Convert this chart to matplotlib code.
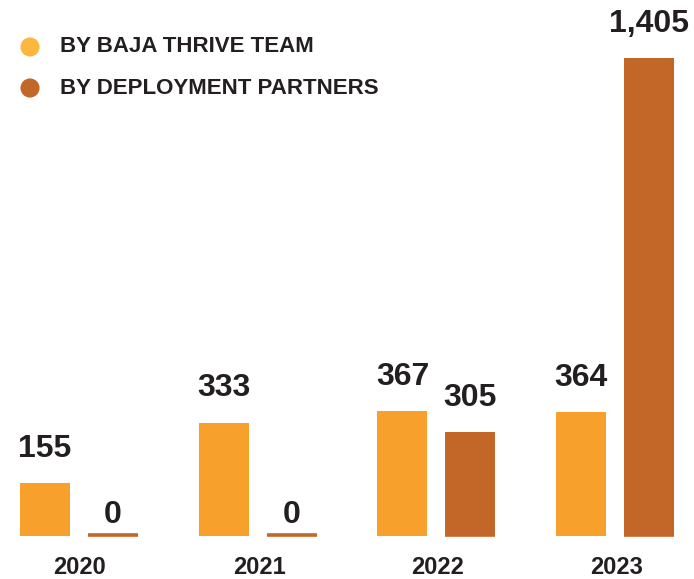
import matplotlib.pyplot as plt
import numpy as np

years = ['2020', '2021', '2022', '2023']
team = [155, 333, 367, 364]
partners = [0, 0, 305, 1405]
labels_team = ['155', '333', '367', '364']
labels_partners = ['0', '0', '305', '1,405']

c_team = '#F7A02B'
c_partners = '#C26727'
c_team_dot = '#FDB73E'
dark = '#231F20'

fig = plt.figure(figsize=(6.94, 5.79), dpi=100)
ax = fig.add_axes([0, 43 / 579, 1, 536 / 579])

x = np.arange(len(years))
w = 0.28
off = 0.19
ax.bar(x - off, team, w, color=c_team, linewidth=0)
ax.bar(x + off, partners, w, color=c_partners, linewidth=0)
# thin strip so the zero bars still show
ax.hlines(np.full(len(x), 4.0), x + off - w / 2, x + off + w / 2, color=c_partners,
          linewidth=2.6, capstyle='butt', clip_on=False)

num_font = dict(family='Liberation Sans', fontweight='bold', fontsize=23, color=dark)
for xi, v, s in zip(x - off, team, labels_team):
    ax.annotate(s, (xi, v), xytext=(0, 14 if v else 4), textcoords='offset points',
                ha='center', va='bottom', **num_font)
for xi, v, s in zip(x + off, partners, labels_partners):
    ax.annotate(s, (xi, v), xytext=(0, 14 if v else 4), textcoords='offset points',
                ha='center', va='bottom', **num_font)

ax.set_xlim(-0.44, 3.44)
ax.set_ylim(0, 536 / 0.34)
ax.axis('off')

cond = dict(family='Liberation Sans', fontweight='bold', color=dark)
for xi, y in zip(x, years):
    fig.text((80 + xi * 179) / 694, 1 - 567 / 579, y, ha='center', va='center',
             fontsize=17, **cond)

# legend
ax2 = fig.add_axes([0, 0, 1, 1], facecolor='none')
ax2.set_xlim(0, 694)
ax2.set_ylim(579, 0)
ax2.axis('off')
ax2.scatter([30, 30], [47, 88], s=190, color=[c_team_dot, c_partners], linewidths=0)
ax2.text(60, 47, 'BY BAJA THRIVE TEAM', va='center', ha='left', fontsize=16, **cond)
ax2.text(60, 88, 'BY DEPLOYMENT PARTNERS', va='center', ha='left', fontsize=16, **cond)

fig.savefig('out.png', dpi=100)
